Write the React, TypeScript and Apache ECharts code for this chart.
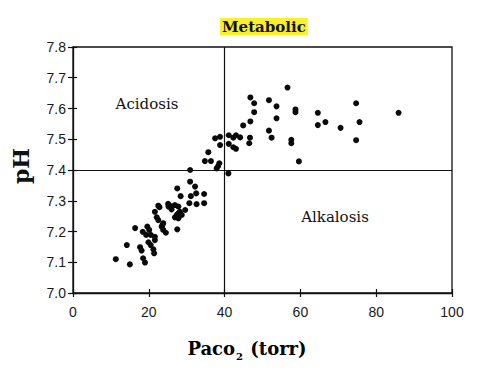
import React, { useEffect, useRef } from "react";
import * as echarts from "echarts";

const paco2: number[] = [
  11.3, 15.0, 14.2, 16.4, 17.7, 18.1, 18.5, 19.0, 18.4, 19.3, 19.6, 20.1, 20.5, 20.5, 19.9, 21.2, 21.4, 21.6, 21.6,
  21.6, 22.1, 22.5, 22.5, 22.8, 23.4, 23.6, 23.8, 24.5, 23.8, 25.2, 25.1, 26.0, 26.0, 26.9, 27.8, 28.2, 27.4, 28.7,
  29.6, 26.9, 27.8, 27.5, 27.8, 28.4, 27.5, 30.7, 31.1, 32.5, 32.6, 34.6, 34.6, 32.2, 30.9, 30.9,
  34.8, 36.4, 35.7, 37.9, 38.3, 38.6, 41.0, 37.5, 38.8, 38.8, 41.1, 41.1, 42.3, 42.3, 43.0, 43.0, 44.1,
  44.9, 46.8, 46.7, 46.5, 46.8, 47.8, 47.8, 51.7, 53.7, 53.7, 51.7, 52.4, 56.6, 58.7, 58.7, 57.6, 57.6, 59.6,
  64.6, 64.6, 66.6, 70.6, 74.7, 75.6, 74.7, 85.9,
];
const ph: number[] = [
  7.11, 7.093, 7.156, 7.211, 7.149, 7.138, 7.113, 7.099, 7.199, 7.189, 7.216, 7.205, 7.189, 7.156, 7.165, 7.142, 7.129, 7.183, 7.172,
  7.264, 7.246, 7.237, 7.284, 7.279, 7.216, 7.221, 7.205, 7.196, 7.227, 7.281, 7.29, 7.272, 7.282, 7.286, 7.281, 7.264, 7.254, 7.254,
  7.27, 7.246, 7.243, 7.207, 7.259, 7.315, 7.34, 7.292, 7.315, 7.324, 7.289, 7.322, 7.292, 7.346, 7.362, 7.4,
  7.429, 7.429, 7.458, 7.405, 7.413, 7.422, 7.389, 7.503, 7.508, 7.481, 7.513, 7.485, 7.505, 7.474, 7.513, 7.469, 7.506,
  7.545, 7.558, 7.505, 7.487, 7.636, 7.617, 7.588, 7.627, 7.607, 7.568, 7.528, 7.505, 7.668, 7.597, 7.588, 7.498, 7.487, 7.428,
  7.586, 7.546, 7.556, 7.537, 7.617, 7.556, 7.497, 7.586,
];

const xTicks = { min: 0, max: 100, interval: 20 };
const yTicks = { min: 7.0, max: 7.8, interval: 0.1 };
const dividers = { paco2: 40, ph: 7.4 };
const regionLabels = ["Acidosis", "Alkalosis"];
const titleText = "Metabolic";

export default function App() {
  const ref = useRef<HTMLDivElement>(null);
  useEffect(() => {
    if (!ref.current) return;
    const chart = echarts.init(ref.current, undefined, { renderer: "svg" });
    const serif = "'DejaVu Serif', 'Liberation Serif', serif";
    const sans = "'Liberation Sans', Arial, sans-serif";
    const data = paco2.map((x, i) => [x, ph[i]]);
    const axisLabel = { color: "#1a1a1a", fontFamily: sans, fontSize: 14 };
    chart.setOption({
      animation: false,
      backgroundColor: "#fff",
      grid: { left: 73, right: 29, top: 47, bottom: 80, show: true, borderColor: "#111", borderWidth: 1.3 },
      title: {
        text: titleText,
        left: 220,
        top: 18,
        padding: [1, 2, 1, 2],
        backgroundColor: "#f9f02c",
        textStyle: { fontFamily: serif, fontWeight: "bold", fontSize: 15, color: "#111" },
      },
      xAxis: [
        {
          type: "value",
          min: xTicks.min,
          max: xTicks.max,
          interval: xTicks.interval,
          splitLine: { show: false },
          axisLine: { show: true, lineStyle: { color: "#111", width: 1.3 } },
          axisTick: { show: true, length: 4, lineStyle: { color: "#111", width: 1.2 } },
          axisLabel: { ...axisLabel, margin: 12 },
        },
        {
          type: "value",
          position: "bottom",
          min: xTicks.min,
          max: xTicks.max,
          interval: xTicks.interval,
          splitLine: { show: false },
          axisLine: { show: false },
          axisTick: { show: true, inside: true, length: 4, lineStyle: { color: "#111", width: 1.2 } },
          axisLabel: { show: false },
        },
      ],
      yAxis: [
        {
          type: "value",
          min: yTicks.min,
          max: yTicks.max,
          interval: yTicks.interval,
          splitLine: { show: false },
          axisLine: { show: true, lineStyle: { color: "#111", width: 1.3 } },
          axisTick: { show: true, length: 5, lineStyle: { color: "#111", width: 1.2 } },
          axisLabel: { ...axisLabel, margin: 7, formatter: (v: number) => v.toFixed(1) },
        },
        {
          type: "value",
          position: "left",
          min: yTicks.min,
          max: yTicks.max,
          interval: yTicks.interval,
          splitLine: { show: false },
          axisLine: { show: false },
          axisTick: { show: true, inside: true, length: 4, lineStyle: { color: "#111", width: 1.2 } },
          axisLabel: { show: false },
        },
      ],
      series: [
        {
          type: "scatter",
          data,
          symbolSize: 6,
          itemStyle: { color: "#0a0a0a", opacity: 1 },
          markLine: {
            silent: true,
            symbol: "none",
            label: { show: false },
            lineStyle: { color: "#111", width: 1.2, type: "solid", opacity: 1 },
            data: [{ xAxis: dividers.paco2 }, { yAxis: dividers.ph }],
          },
        },
      ],
      graphic: [
        {
          type: "text",
          x: 147,
          y: 104,
          style: {
            text: regionLabels[0],
            font: `15px ${serif}`,
            fill: "#111",
            align: "center",
            verticalAlign: "middle",
          },
        },
        {
          type: "text",
          x: 335,
          y: 217,
          style: {
            text: regionLabels[1],
            font: `15px ${serif}`,
            fill: "#111",
            align: "center",
            verticalAlign: "middle",
          },
        },
        {
          type: "text",
          x: 21,
          y: 166,
          rotation: Math.PI / 2,
          style: {
            text: "pH",
            font: `bold 22px ${serif}`,
            fill: "#111",
            align: "center",
            verticalAlign: "middle",
          },
        },
        {
          type: "text",
          x: 247,
          y: 348,
          style: {
            text: "{a|Paco}{b|2}{a| (torr)}",
            align: "center",
            verticalAlign: "middle",
            rich: {
              a: { fontFamily: serif, fontWeight: "bold", fontSize: 18, color: "#111" } as any,
              b: { fontFamily: serif, fontWeight: "bold", fontSize: 10, color: "#111", padding: [17, 1, 0, 1] } as any,
            },
          },
        },
      ],
    });
    return () => chart.dispose();
  }, []);
  return <div ref={ref} style={{ position: "fixed", left: 0, top: 0, width: 481, height: 373 }} />;
}
